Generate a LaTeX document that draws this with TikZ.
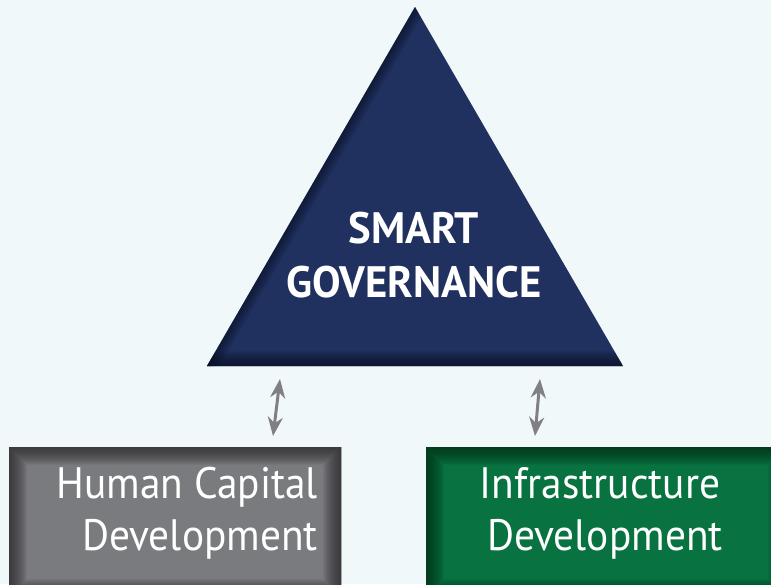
\documentclass[tikz,border=0pt]{standalone}
\usepackage{fontspec}
\setmainfont{PT Sans}
\newfontfamily\boxfont[FakeStretch=0.94]{PT Sans}
\newfontfamily\titlefont[FakeStretch=0.97]{PT Sans}
\usetikzlibrary{arrows.meta}
\definecolor{bg}{RGB}{240,248,250}
\definecolor{navy}{RGB}{32,49,95}
\definecolor{navydark}{RGB}{10,16,36}
\definecolor{boxgray}{RGB}{122,123,127}
\definecolor{boxgraydark}{RGB}{40,40,42}
\definecolor{boxgreen}{RGB}{8,114,64}
\definecolor{boxgreendark}{RGB}{2,44,22}
\definecolor{arrowgray}{RGB}{128,128,132}
\tikzset{
  titletext/.style={text=white, inner sep=0pt, font=\titlefont\bfseries\fontsize{44}{52}\selectfont},
  boxtext/.style={text=white, inner sep=0pt, font=\boxfont\fontsize{44}{52}\selectfont},
  panel/.style={draw=none, inner sep=0pt, minimum width=#1, minimum height=150pt, anchor=north west},
  biarrow/.style={draw=arrowgray, line width=3pt, {Stealth[length=19pt,width=15pt]}-{Stealth[length=19pt,width=15pt]}},
}
\begin{document}
\begin{tikzpicture}[x=1pt,y=-1pt]
\useasboundingbox (0,0) rectangle (771,584);
\fill[bg] (0,0) rectangle (771,584);
\clip (0,0) rectangle (771,584);
% triangle
\coordinate (apex) at (415,7);
\coordinate (bl) at (207,366);
\coordinate (br) at (623,366);
\fill[navy] (apex) -- (br) -- (bl) -- cycle;
\begin{scope}
  \clip (apex) -- (br) -- (bl) -- cycle;
  \foreach \w in {2,4,...,22} \draw[navydark, line width=\w pt, opacity=0.07] (apex) -- (bl);
  \foreach \w in {2,4,...,30} \draw[navydark, line width=\w pt, opacity=0.07] (bl) -- (br);
\end{scope}
\node[titletext, anchor=base] (t1) at (414,243) {SMART};
\node[titletext, anchor=base] (t2) at (414,297) {GOVERNANCE};
% boxes
\node[panel=332pt, fill=boxgray] (hc) at (9,447) {};
\node[panel=360pt, fill=boxgreen] (ia) at (426,447) {};
\begin{scope}
  \clip (hc.north west) rectangle (hc.south east);
  \foreach \w in {2,4,...,36} \draw[boxgraydark, line width=\w pt, opacity=0.065] (hc.north west) rectangle (hc.south east);
\end{scope}
\begin{scope}
  \clip (ia.north west) rectangle (ia.south east);
  \foreach \w in {2,4,...,36} \draw[boxgreendark, line width=\w pt, opacity=0.065] (ia.north west) rectangle (ia.south east);
\end{scope}
\node[boxtext, anchor=base east] (hc1) at (318,498) {Human Capital};
\node[boxtext, anchor=base east] (hc2) at (318,550) {Development};
\node[boxtext, anchor=base] (ia1) at (600,498) {Infrastructure};
\node[boxtext, anchor=base] (ia2) at (605,550) {Development};
% arrows
\coordinate (a1t) at (280,379);
\coordinate (a1b) at (273,436);
\coordinate (a2t) at (540,379);
\coordinate (a2b) at (535,436);
\draw[biarrow] (a1t) -- (a1b);
\draw[biarrow] (a2t) -- (a2b);
\end{tikzpicture}
\end{document}
